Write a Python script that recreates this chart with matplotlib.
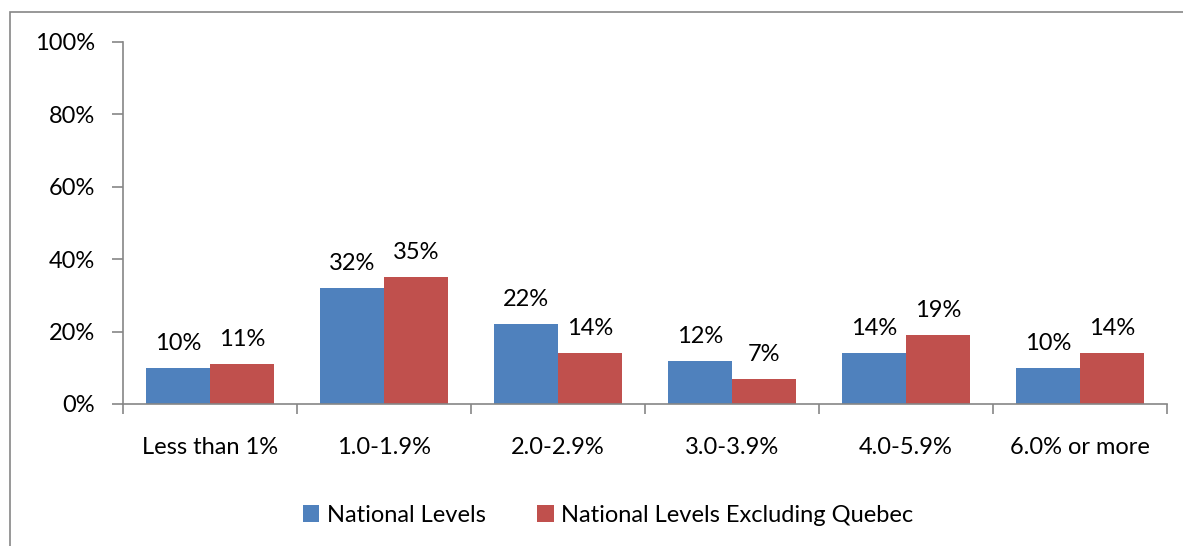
import matplotlib.pyplot as plt
import numpy as np
from matplotlib.patches import Rectangle

plt.rcParams['font.family'] = ['Lato', 'DejaVu Sans']

categories = ['Less than 1%', '1.0-1.9%', '2.0-2.9%', '3.0-3.9%', '4.0-5.9%', '6.0% or more']
national = [10, 32, 22, 12, 14, 10]
excl_quebec = [11, 35, 14, 7, 19, 14]
yticks = [0, 20, 40, 60, 80, 100]

blue = '#4F81BD'
red = '#C0504D'
grey = '#868686'
fs = 17

fig = plt.figure(figsize=(11.83, 5.46), dpi=100)
ax = fig.add_axes([123 / 1183, 1 - 404 / 546, (1167 - 123) / 1183, (404 - 42) / 546])

# outer chart frame (cut off at right and bottom like the screenshot)
fig.patches.append(Rectangle((10 / 1183, -0.1), 1.2, 1 - 12 / 546 + 0.1,
                             transform=fig.transFigure, fill=False,
                             edgecolor=grey, linewidth=1.2))

x = np.arange(len(categories))
w = 0.365
b1 = ax.bar(x - w / 2, national, w, color=blue, label='National Levels')
b2 = ax.bar(x + w / 2, excl_quebec, w, color=red, label='National Levels Excluding Quebec')

for bars in (b1, b2):
    for r in bars:
        ax.annotate(f'{r.get_height():.0f}%', (r.get_x() + r.get_width() / 2, r.get_height()),
                    xytext=(0, 10), textcoords='offset points', ha='center', va='bottom',
                    fontsize=fs, color='black')

ax.set_xlim(-0.5, len(categories) - 0.5)
ax.set_ylim(0, 100)
ax.set_yticks(yticks)
ax.set_yticklabels([f'{t}%' for t in yticks], fontsize=fs)
ax.set_xticks(x)
ax.set_xticklabels(categories, fontsize=fs)
ax.tick_params(axis='x', length=0, pad=24)
ax.set_xticks(np.arange(len(categories) + 1) - 0.5, minor=True)
ax.tick_params(axis='x', which='minor', length=7, color=grey, width=1.2)
ax.tick_params(axis='y', length=8, color=grey, width=1.2, pad=12)

for s in ['top', 'right']:
    ax.spines[s].set_visible(False)
for s in ['left', 'bottom']:
    ax.spines[s].set_color(grey)
    ax.spines[s].set_linewidth(1.2)

fig.legend(loc='center', bbox_to_anchor=(608 / 1183, 1 - 515 / 546), ncol=2, frameon=False,
           fontsize=fs, handlelength=0.7, handleheight=0.7, handletextpad=0.3, columnspacing=2.2)

fig.savefig('out.png', dpi=100)
